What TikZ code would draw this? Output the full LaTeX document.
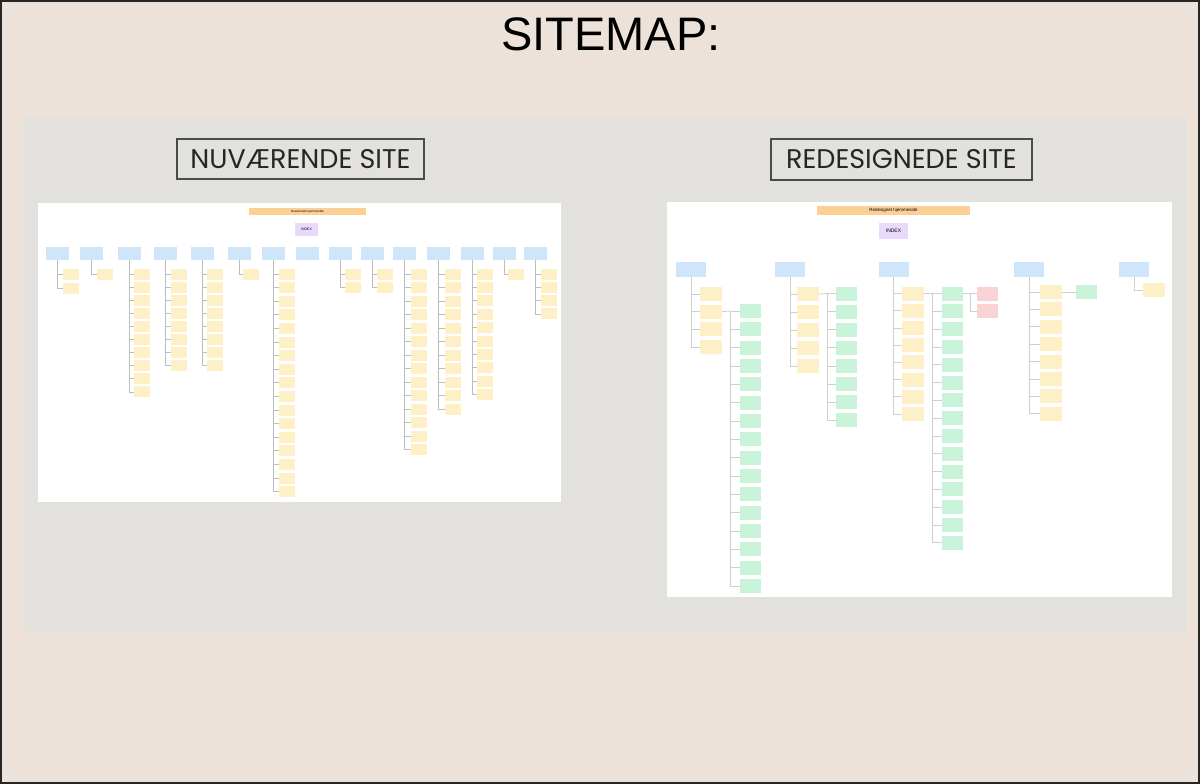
\documentclass[tikz,border=0pt]{standalone}
\usepackage{fontspec}
\setmainfont{Liberation Sans}
\newfontfamily\boxfont{Poppins}
\usetikzlibrary{calc}

\definecolor{bgbeige}{HTML}{ECE2D9}
\definecolor{panelgray}{HTML}{E3E1DE}
\definecolor{framegray}{HTML}{4A4A4A}
\definecolor{nodeblue}{HTML}{CFE6FA}
\definecolor{nodeyellow}{HTML}{FDEFC6}
\definecolor{nodegreen}{HTML}{C9F3D8}
\definecolor{nodered}{HTML}{F9D3D3}
\definecolor{nodepurple}{HTML}{E9DAFB}
\definecolor{nodeorange}{HTML}{FCCF95}
\definecolor{linegray}{HTML}{BDBDBD}
\definecolor{linelight}{HTML}{CFCFCF}

\begin{document}
\begin{tikzpicture}[x=1pt,y=-1pt,
  card/.style={draw=none, inner sep=0pt, outer sep=0pt},
  lblue/.style={card, fill=nodeblue, minimum width=23pt, minimum height=13pt},
  lyel/.style={card, fill=nodeyellow, minimum width=16pt, minimum height=11pt},
  rblue/.style={card, fill=nodeblue, minimum width=30pt, minimum height=15pt},
  ryel/.style={card, fill=nodeyellow, minimum width=22pt, minimum height=14pt},
  rgreen/.style={card, fill=nodegreen, minimum width=21pt, minimum height=14pt},
  rred/.style={card, fill=nodered, minimum width=21pt, minimum height=14pt},
  lconn/.style={draw=linegray, line width=0.7pt},
  rconn/.style={draw=linelight, line width=0.8pt},
  sitelabel/.style={draw=framegray, line width=2pt, fill=panelgray, inner sep=0pt,
    font=\boxfont\fontsize{27}{27}\selectfont, text=black!85}]

% page, frame and panel
\useasboundingbox (0,0) rectangle (1200,784);
\fill[bgbeige] (0,0) rectangle (1200,784);
\draw[black!85, line width=2pt] (1,1) rectangle (1199,783);
\fill[panelgray] (25,118) rectangle (1186,632);

\node[font=\fontsize{47}{50}\selectfont] (title) at (611,34) {SITEMAP:};

\node[sitelabel, minimum width=247pt, minimum height=40pt] (curlabel) at (300.5,159) {NUVÆRENDE SITE};
\node[sitelabel, minimum width=261pt, minimum height=41pt] (newlabel) at (901.5,159.5) {REDESIGNEDE SITE};

% ---------------- current site map ----------------
\fill[white] (38,203) rectangle (561,502);
\node[card, fill=nodeorange, minimum width=117pt, minimum height=7.5pt,
  font=\fontsize{3}{3}\selectfont] (lhead) at (307.5,211.5) {Nuværende hjemmeside};
\node[card, fill=nodepurple, minimum width=23pt, minimum height=13pt,
  font=\fontsize{3.5}{4}\selectfont] (lindex) at (306.5,229.5) {INDEX};

\foreach \c/\x/\cx/\n/\p in {1/57/71/2/14, 2/91.5/105/1/13, 3/129/142/10/13.1,
    4/165.5/179/8/13.1, 5/202.5/215/8/13.1, 6/239/251/1/13, 7/273.5/287/17/13.6,
    8/307.5/0/0/13, 9/340.5/352.5/2/13.5, 10/372.5/385/2/13.5, 11/404.5/419/14/13.5,
    12/438.5/453/11/13.5, 13/472.5/485/10/13.4, 14/504/516/1/13, 15/535.5/548.5/4/13.3}{
  \node[lblue] (L\c) at (\x,253.5) {};
  \ifnum\n>0
    \foreach \i in {1,...,\n}{
      \node[lyel] (L\c c\i) at (\cx,{274+(\i-1)*\p}) {};
      \draw[lconn] (L\c.south) |- (L\c c\i.west);
    }
  \fi
}

% ---------------- redesigned site map ----------------
\fill[white] (667,202) rectangle (1172,597);
\node[card, fill=nodeorange, minimum width=153pt, minimum height=9pt,
  font=\fontsize{4.5}{5}\selectfont] (rhead) at (893.5,210.5) {Redesignet hjemmeside};
\node[card, fill=nodepurple, minimum width=29pt, minimum height=16pt,
  font=\fontsize{5}{6}\selectfont] (rindex) at (893.5,231) {INDEX};

\foreach \c/\x in {A/691, B/790, C/893.5, D/1029, E/1134}{
  \node[rblue] (R\c) at (\x,269.5) {};
}

% second level (yellow)
\foreach \c/\cx/\y/\n/\p in {A/711/294/4/17.7, B/808/294/5/18, C/913/293.5/8/17.2,
    D/1050.5/292/8/17.4, E/1154/290/1/17}{
  \foreach \i in {1,...,\n}{
    \node[ryel] (R\c y\i) at (\cx,{\y+(\i-1)*\p}) {};
    \draw[rconn] (R\c.south) |- (R\c y\i.west);
  }
}

% third level (green)
\foreach \c/\k/\jx/\gx/\y/\n/\p in {A/2/730/750.5/311/16/18.33, B/1/827/846.5/293.5/8/18.1,
    C/1/932/952.5/293.5/15/17.8, D/1/1068/1086.5/292/1/17}{
  \coordinate (J\c) at (\jx,\y);
  \draw[rconn] (R\c y\k.east) -- (J\c);
  \foreach \i in {1,...,\n}{
    \node[rgreen] (R\c g\i) at (\gx,{\y+(\i-1)*\p}) {};
    \draw[rconn] (J\c) |- (R\c g\i.west);
  }
}

% fourth level (red)
\coordinate (JR) at (970,293.5);
\draw[rconn] (RCg1.east) -- (JR);
\foreach \i in {1,2}{
  \node[rred] (RCr\i) at (987.5,{293.5+(\i-1)*17.5}) {};
  \draw[rconn] (JR) |- (RCr\i.west);
}
\end{tikzpicture}
\end{document}
